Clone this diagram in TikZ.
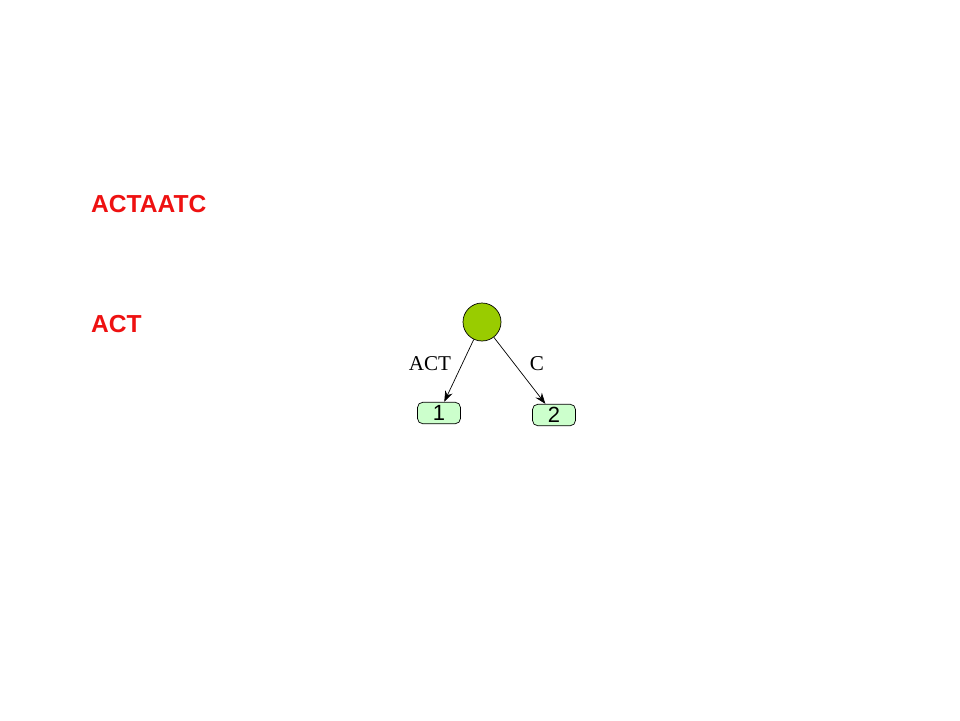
\documentclass[tikz,border=0pt]{standalone}
\usepackage{fontspec}
\setmainfont{Liberation Serif}
\newfontfamily\arialfont{Liberation Sans}
\usetikzlibrary{arrows.meta}
\definecolor{verderaiz}{HTML}{99CC00}
\definecolor{verdehoja}{HTML}{CCFFCC}
\definecolor{rojotexto}{HTML}{EE1111}
\tikzset{
  raiz/.style={circle, draw=black, fill=verderaiz, minimum size=0.76cm, inner sep=0pt},
  hoja/.style={draw=black, fill=verdehoja, rounded corners=3pt, minimum width=0.86cm,
    minimum height=0.43cm, inner sep=0pt, font=\arialfont\fontsize{12.5}{12.5}\selectfont},
  cadena/.style={anchor=west, text=rojotexto, font=\arialfont\bfseries\fontsize{14}{14}\selectfont},
  etiqueta/.style={font=\fontsize{12}{12}\selectfont},
  arista/.style={-{Stealth[length=2.2mm,width=1.6mm]}, thin}
}
\begin{document}
\begin{tikzpicture}[x=0.02cm, y=-0.02cm]
% Marco de la página
\useasboundingbox (0,0) rectangle (960,720);

% Cadenas a la izquierda
\node[cadena] (texto) at (85,204) {ACTAATC};
\node[cadena] (sufijo) at (85,324) {ACT};

% El árbol
\node[raiz] (r) at (482,322) {};
\node[hoja] (h1) at (439,413) {1};
\node[hoja] (h2) at (554,415) {2};

% Las aristas con sus etiquetas
\draw[arista] (r) -- (h1);
\draw[arista] (r) -- (h2);
\node[etiqueta] (e1) at (430,364) {ACT};
\node[etiqueta] (e2) at (537,364) {C};
\end{tikzpicture}
\end{document}
